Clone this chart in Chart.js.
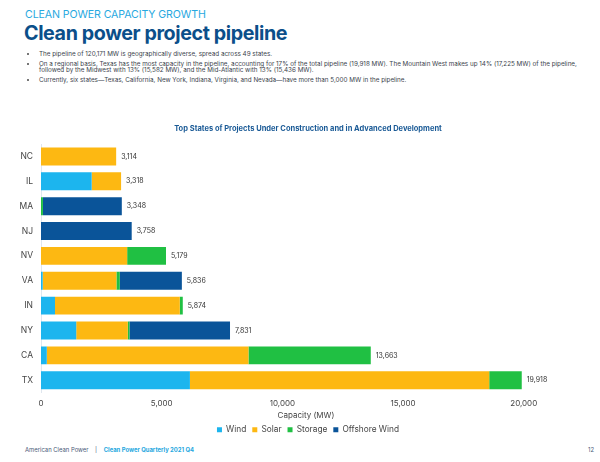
<!DOCTYPE html>
<html>
<head>
<meta charset="utf-8">
<script src="https://cdn.jsdelivr.net/npm/chart.js@4"></script>
<style>
  body { margin: 0; width: 600px; height: 462px; background: #fff; font-family: Inter, "Noto Sans", sans-serif; position: relative; overflow: hidden; }
  .kicker { position: absolute; left: 25px; top: 8px; font-size: 10.6px; color: #27a8e0; letter-spacing: -0.1px; }
  .title { position: absolute; left: 24px; top: 21px; font-size: 19.7px; font-weight: 700; color: #0b4f8a; letter-spacing: -0.4px; }
  ul { position: absolute; left: 24px; top: 51px; margin: 0; padding: 0; list-style: none; width: 566px; font-size: 6.3px; color: #3b3f4c; line-height: 6.4px; }
  li { position: relative; padding-left: 15px; margin-bottom: 3.2px; }
  li::before { content: ""; position: absolute; left: 3px; top: 2.4px; width: 1.6px; height: 1.6px; background: #777; }
  #wrap { position: absolute; left: 16px; top: 116px; width: 584px; height: 328px; }
  .foot { position: absolute; top: 446px; font-size: 5.9px; color: #4a5a78; }
  .foot b { color: #27a8e0; }
</style>
</head>
<body>
<div class="kicker">CLEAN POWER CAPACITY GROWTH</div>
<div class="title">Clean power project pipeline</div>
<ul>
  <li>The pipeline of 120,171 MW is geographically diverse, spread across 49 states.</li>
  <li>On a regional basis, Texas has the most capacity in the pipeline, accounting for 17% of the total pipeline (19,918 MW). The Mountain West makes up 14% (17,225 MW) of the pipeline, followed by the Midwest with 13% (15,582 MW), and the Mid-Atlantic with 13% (15,436 MW).</li>
  <li>Currently, six states—Texas, California, New York, Indiana, Virginia, and Nevada—have more than 5,000 MW in the pipeline.</li>
</ul>
<div id="wrap"><canvas id="grafico" width="584" height="328"></canvas></div>
<div class="foot" style="left:25px">American Clean Power &nbsp;&nbsp;&nbsp;|&nbsp;&nbsp;&nbsp; <b>Clean Power Quarterly 2021 Q4</b></div>
<div class="foot" style="left:588px">12</div>
<script>
// Estados e capacidade (MW) por tecnologia
const estados = ['NC', 'IL', 'MA', 'NJ', 'NV', 'VA', 'IN', 'NY', 'CA', 'TX'];
const wind = [0, 2100, 0, 0, 0, 70, 580, 1460, 240, 6170];
const solar = [3114, 1218, 0, 0, 3570, 3055, 5170, 2136, 8356, 12400];
const storage = [0, 0, 80, 0, 1609, 140, 124, 70, 5067, 1348];
const offshore = [0, 0, 3268, 3758, 0, 2571, 0, 4165, 0, 0];
const xTicks = [0, 5000, 10000, 15000, 20000];

const fmt = v => v.toLocaleString('en-US');

// rótulos com o total no fim de cada barra
const rotulosTotais = {
    id: 'rotulosTotais',
    afterDatasetsDraw(chart) {
        const ctx = chart.ctx;
        const x = chart.scales.x, y = chart.scales.y;
        ctx.save();
        ctx.font = '7px Inter';
        ctx.fillStyle = '#333';
        ctx.textBaseline = 'middle';
        estados.forEach((e, i) => {
            const total = wind[i] + solar[i] + storage[i] + offshore[i];
            ctx.fillText(fmt(total), x.getPixelForValue(total) + 5, y.getPixelForValue(i));
        });
        // titulo do eixo x
        ctx.font = '8px Inter';
        ctx.fillStyle = '#444';
        ctx.textAlign = 'center';
        ctx.fillText('Capacity (MW)', 290, y.bottom + 23);
        ctx.restore();
    }
};

const ctx = document.getElementById('grafico').getContext('2d');
const grafico = new Chart(ctx, {
    type: 'bar',
    data: {
        labels: estados,
        datasets: [
            { label: 'Wind', data: wind, backgroundColor: '#1cb5ee' },
            { label: 'Solar', data: solar, backgroundColor: '#fdb812' },
            { label: 'Storage', data: storage, backgroundColor: '#20c043' },
            { label: 'Offshore Wind', data: offshore, backgroundColor: '#0a5499' }
        ]
    },
    options: {
        responsive: false,
        animation: false,
        indexAxis: 'y',
        layout: { padding: 0 },
        datasets: { bar: { barPercentage: 0.72, categoryPercentage: 1 } },
        scales: {
            x: {
                stacked: true,
                min: 0,
                max: 23160,
                grid: { display: false, drawTicks: false },
                border: { display: false },
                afterBuildTicks: s => { s.ticks = xTicks.map(v => ({ value: v })); },
                afterFit: s => { s.height = 27; },
                ticks: { color: '#444', font: { family: 'Inter', size: 8 }, padding: 6, callback: v => fmt(v) }
            },
            y: {
                stacked: true,
                grid: { display: false, drawTicks: false },
                border: { color: '#dfe6ee' },
                afterFit: s => { s.width = 25; },
                ticks: { color: '#444', font: { family: 'Inter', size: 8.5 }, padding: 8 }
            }
        },
        plugins: {
            title: {
                display: true,
                text: 'Top States of Projects Under Construction and in Advanced Development',
                color: '#1a5a96',
                font: { family: 'Inter', size: 7.5, weight: 'bold' },
                padding: { top: 8, bottom: 11 }
            },
            legend: {
                position: 'bottom',
                labels: { boxWidth: 5, boxHeight: 5, color: '#444', font: { family: 'Inter', size: 8.3 }, padding: 6 }
            },
            tooltip: { enabled: false }
        }
    },
    plugins: [rotulosTotais]
});
</script>
</body>
</html>
